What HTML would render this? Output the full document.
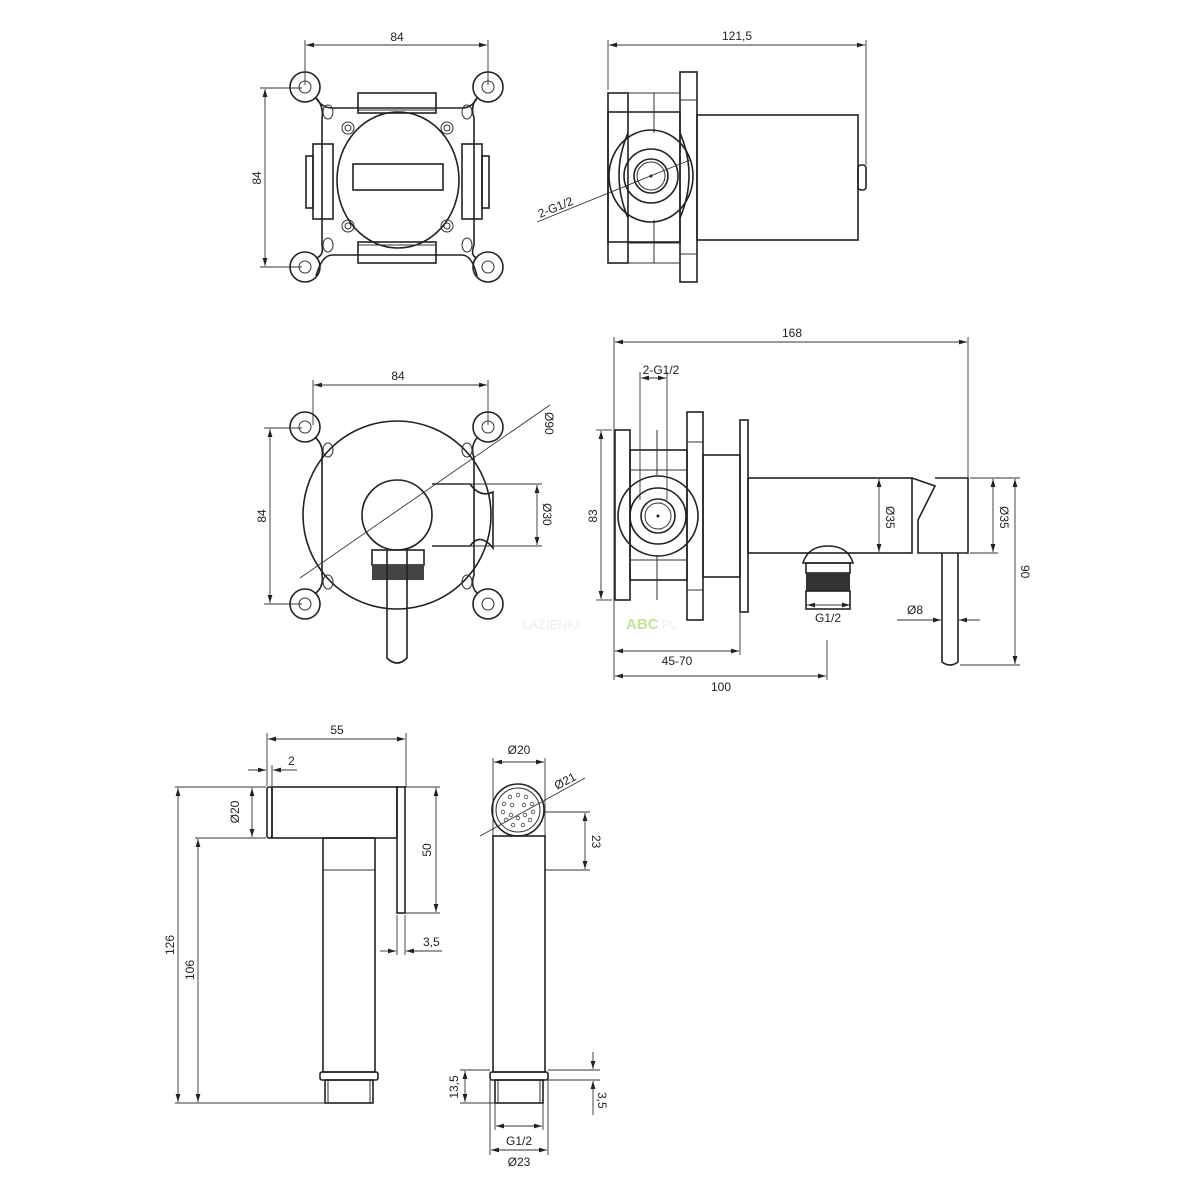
<!DOCTYPE html>
<html><head><meta charset="utf-8"><style>
html,body{margin:0;padding:0;background:#fff}
svg{display:block}
text{font-family:"Liberation Sans",sans-serif;font-size:12px;fill:#222}
.o{fill:none;stroke:#222;stroke-width:1.6}
.t{fill:none;stroke:#333;stroke-width:1}
.d{fill:none;stroke:#333;stroke-width:0.9}
</style></head><body>
<svg width="1200" height="1200" viewBox="0 0 1200 1200" xmlns="http://www.w3.org/2000/svg">
<defs>
<marker id="a" viewBox="0 0 10 10" refX="10" refY="5" markerWidth="8" markerHeight="8" orient="auto-start-reverse" markerUnits="userSpaceOnUse"><path d="M0,2 L10,5 L0,8 z" fill="#222"/></marker>
</defs>

<!-- VIEW 1: mounting plate -->
<g>
<path class="o" d="M316,98 Q322,108 332,108 L462,108 Q472,108 477,98 M477,276 Q472,255 462,255 L332,255 Q322,255 316,276 M316,98 Q324,106 322,118 L322,245 Q324,256 316,258 M477,98 Q470,106 474,118 L474,245 Q470,256 477,258"/>
<circle class="o" cx="305" cy="87" r="15" fill="#fff"/><circle class="t" cx="305" cy="87" r="6"/>
<circle class="o" cx="488" cy="87" r="15" fill="#fff"/><circle class="t" cx="488" cy="87" r="6"/>
<circle class="o" cx="305" cy="267" r="15" fill="#fff"/><circle class="t" cx="305" cy="267" r="6"/>
<circle class="o" cx="488" cy="267" r="15" fill="#fff"/><circle class="t" cx="488" cy="267" r="6"/>
<ellipse class="t" cx="328" cy="112" rx="5" ry="7"/><ellipse class="t" cx="467" cy="112" rx="5" ry="7"/>
<ellipse class="t" cx="328" cy="245" rx="5" ry="7"/><ellipse class="t" cx="467" cy="245" rx="5" ry="7"/>
<circle class="t" cx="348" cy="128" r="6"/><circle class="t" cx="348" cy="128" r="3"/>
<circle class="t" cx="447" cy="128" r="6"/><circle class="t" cx="447" cy="128" r="3"/>
<circle class="t" cx="348" cy="226" r="6"/><circle class="t" cx="348" cy="226" r="3"/>
<circle class="t" cx="447" cy="226" r="6"/><circle class="t" cx="447" cy="226" r="3"/>
<ellipse class="o" cx="398" cy="180" rx="61" ry="68"/>
<rect class="o" x="353" y="164" width="90" height="26"/>
<rect class="o" x="358" y="93" width="78" height="20" fill="#fff"/><line class="t" x1="358" y1="110" x2="436" y2="110"/>
<rect class="o" x="358" y="242" width="78" height="21" fill="#fff"/><line class="t" x1="358" y1="245" x2="436" y2="245"/>
<rect class="o" x="313" y="144" width="20" height="75" fill="#fff"/><rect class="o" x="306" y="156" width="7" height="52"/>
<rect class="o" x="462" y="144" width="20" height="75" fill="#fff"/><rect class="o" x="482" y="156" width="7" height="52"/>
<line class="d" x1="305" y1="40" x2="305" y2="85"/><line class="d" x1="488" y1="40" x2="488" y2="85"/>
<line class="d" x1="306" y1="45" x2="487" y2="45" marker-start="url(#a)" marker-end="url(#a)"/>
<text x="397" y="41" text-anchor="middle">84</text>
<line class="d" x1="260" y1="88" x2="302" y2="88"/><line class="d" x1="260" y1="267" x2="302" y2="267"/>
<line class="d" x1="265" y1="89" x2="265" y2="266" marker-start="url(#a)" marker-end="url(#a)"/>
<text transform="translate(261,178) rotate(-90)" text-anchor="middle">84</text>
</g>

<!-- VIEW 2: side of box -->
<g>
<rect class="o" x="608" y="112" width="72" height="130"/>
<rect class="o" x="608" y="93" width="20" height="170"/>
<rect class="o" x="680" y="72" width="17" height="210"/>
<line class="t" x1="680" y1="100" x2="697" y2="100"/><line class="t" x1="680" y1="254" x2="697" y2="254"/>
<line class="t" x1="628" y1="93" x2="680" y2="93"/><line class="t" x1="628" y1="263" x2="680" y2="263"/>
<line class="t" x1="654" y1="93" x2="654" y2="133"/><line class="t" x1="654" y1="220" x2="654" y2="263"/>
<line class="t" x1="628" y1="112" x2="680" y2="112"/><line class="t" x1="628" y1="243" x2="680" y2="243"/>
<path class="o" d="M628,133 Q610,175 628,218 M680,133 Q698,175 680,218"/>
<ellipse class="o" cx="651" cy="176" rx="42" ry="46"/>
<circle class="o" cx="651" cy="176" r="27"/>
<circle class="o" cx="651" cy="176" r="17"/><circle class="t" cx="651" cy="176" r="14"/>
<circle cx="651" cy="176" r="1.5" fill="#222"/>
<rect class="o" x="697" y="115" width="161" height="125"/>
<rect class="o" x="858" y="165" width="8" height="25" rx="3"/>
<line class="d" x1="537" y1="222" x2="690" y2="160"/>
<text transform="translate(540,218) rotate(-22)">2-G1/2</text>
<line class="d" x1="608" y1="40" x2="608" y2="90"/><line class="d" x1="866" y1="40" x2="866" y2="165"/>
<line class="d" x1="609" y1="45" x2="865" y2="45" marker-start="url(#a)" marker-end="url(#a)"/>
<text x="737" y="40" text-anchor="middle">121,5</text>
</g>

<!-- VIEW 3: front with rosette -->
<g>
<path class="o" d="M316,438 Q324,446 322,458 L322,575 Q324,586 316,593 M477,438 Q470,446 474,458 L474,575 Q470,586 477,593"/>
<circle class="o" cx="305" cy="427" r="15" fill="#fff"/><circle class="t" cx="305" cy="427" r="6"/>
<circle class="o" cx="488" cy="427" r="15" fill="#fff"/><circle class="t" cx="488" cy="427" r="6"/>
<circle class="o" cx="305" cy="604" r="15" fill="#fff"/><circle class="t" cx="305" cy="604" r="6"/>
<circle class="o" cx="488" cy="604" r="15" fill="#fff"/><circle class="t" cx="488" cy="604" r="6"/>
<ellipse class="t" cx="328" cy="450" rx="5" ry="7"/><ellipse class="t" cx="467" cy="450" rx="5" ry="7"/>
<ellipse class="t" cx="328" cy="582" rx="5" ry="7"/><ellipse class="t" cx="467" cy="582" rx="5" ry="7"/>
<circle class="o" cx="397" cy="515" r="94" fill="#fff"/>
<path class="o" d="M432,484 L470,484 Q480,498 493,492 L493,548 Q480,532 470,546 L432,546" fill="#fff"/>
<circle class="o" cx="397" cy="515" r="35" fill="#fff"/>
<rect class="o" x="372" y="550" width="52" height="15" fill="#fff"/>
<rect x="372" y="565" width="52" height="15" fill="#444"/>
<path class="o" d="M387,550 L387,658 Q397,668 407,658 L407,550" fill="#fff"/>
<line class="d" x1="300" y1="578" x2="550" y2="405"/>
<text transform="translate(545,412) rotate(90)">Ø90</text>
<line class="d" x1="432" y1="484" x2="542" y2="484"/><line class="d" x1="432" y1="546" x2="542" y2="546"/>
<line class="d" x1="537" y1="485" x2="537" y2="545" marker-start="url(#a)" marker-end="url(#a)"/>
<text transform="translate(543,503) rotate(90)">Ø30</text>
<line class="d" x1="313" y1="380" x2="313" y2="425"/><line class="d" x1="488" y1="380" x2="488" y2="425"/>
<line class="d" x1="314" y1="385" x2="487" y2="385" marker-start="url(#a)" marker-end="url(#a)"/>
<text x="398" y="380" text-anchor="middle">84</text>
<line class="d" x1="264" y1="428" x2="302" y2="428"/><line class="d" x1="264" y1="604" x2="302" y2="604"/>
<line class="d" x1="270" y1="429" x2="270" y2="603" marker-start="url(#a)" marker-end="url(#a)"/>
<text transform="translate(266,516) rotate(-90)" text-anchor="middle">84</text>
</g>

<!-- VIEW 4: side assembled -->
<g>
<rect class="o" x="615" y="430" width="15" height="170"/>
<rect class="o" x="630" y="450" width="57" height="130"/>
<rect class="o" x="687" y="412" width="16" height="208"/>
<line class="t" x1="687" y1="442" x2="703" y2="442"/><line class="t" x1="687" y1="590" x2="703" y2="590"/>
<line class="t" x1="630" y1="470" x2="687" y2="470"/><line class="t" x1="630" y1="560" x2="687" y2="560"/>
<line class="t" x1="657" y1="430" x2="657" y2="475"/><line class="t" x1="657" y1="555" x2="657" y2="600"/>
<circle class="o" cx="658" cy="516" r="40" fill="#fff"/>
<circle class="o" cx="658" cy="516" r="28"/>
<circle class="o" cx="658" cy="516" r="17"/><circle class="t" cx="658" cy="516" r="13"/>
<circle cx="658" cy="516" r="1.5" fill="#222"/>
<rect class="o" x="703" y="455" width="37" height="122"/>
<rect class="o" x="740" y="420" width="8" height="192"/>
<rect class="o" x="748" y="478" width="164" height="75"/>
<path class="o" d="M912,478 L935,486 L918,520 L918,553 L968,553 L968,478 L935,478"/>
<path class="o" d="M942,553 L942,662 Q950,668 958,662 L958,553" fill="#fff"/>
<path class="o" d="M803,563 Q808,546 828,546 Q848,546 853,563 L803,563 Z"/>
<rect class="o" x="806" y="563" width="44" height="10"/>
<rect x="806" y="573" width="44" height="18" fill="#333"/>
<rect class="o" x="806" y="591" width="44" height="18"/>
<line class="d" x1="614" y1="337" x2="614" y2="680"/><line class="d" x1="968" y1="337" x2="968" y2="478"/>
<line class="d" x1="615" y1="342" x2="967" y2="342" marker-start="url(#a)" marker-end="url(#a)"/>
<text x="792" y="337" text-anchor="middle">168</text>
<line class="d" x1="640" y1="372" x2="640" y2="500"/><line class="d" x1="667" y1="372" x2="667" y2="500"/>
<line class="d" x1="641" y1="378" x2="666" y2="378" marker-start="url(#a)" marker-end="url(#a)"/>
<text x="661" y="374" text-anchor="middle">2-G1/2</text>
<line class="d" x1="596" y1="430" x2="612" y2="430"/><line class="d" x1="596" y1="600" x2="612" y2="600"/>
<line class="d" x1="601" y1="431" x2="601" y2="599" marker-start="url(#a)" marker-end="url(#a)"/>
<text transform="translate(597,516) rotate(-90)" text-anchor="middle">83</text>
<line class="d" x1="879" y1="479" x2="879" y2="552" marker-start="url(#a)" marker-end="url(#a)"/>
<text transform="translate(886,506) rotate(90)">Ø35</text>
<line class="d" x1="970" y1="478" x2="1020" y2="478"/><line class="d" x1="970" y1="553" x2="998" y2="553"/>
<line class="d" x1="993" y1="479" x2="993" y2="552" marker-start="url(#a)" marker-end="url(#a)"/>
<text transform="translate(1000,506) rotate(90)">Ø35</text>
<line class="d" x1="960" y1="665" x2="1020" y2="665"/>
<line class="d" x1="1015" y1="479" x2="1015" y2="664" marker-start="url(#a)" marker-end="url(#a)"/>
<text transform="translate(1021,565) rotate(90)">90</text>
<line class="d" x1="897" y1="620" x2="941" y2="620" marker-end="url(#a)"/>
<line class="d" x1="980" y1="620" x2="959" y2="620" marker-end="url(#a)"/>
<text x="907" y="614">Ø8</text>
<line class="d" x1="807" y1="605" x2="850" y2="605" marker-start="url(#a)" marker-end="url(#a)"/>
<text x="828" y="622" text-anchor="middle">G1/2</text>
<line class="d" x1="740" y1="612" x2="740" y2="655"/>
<line class="d" x1="615" y1="651" x2="739" y2="651" marker-start="url(#a)" marker-end="url(#a)"/>
<text x="677" y="665" text-anchor="middle">45-70</text>
<line class="d" x1="827" y1="640" x2="827" y2="680"/>
<line class="d" x1="615" y1="676" x2="826" y2="676" marker-start="url(#a)" marker-end="url(#a)"/>
<text x="721" y="691" text-anchor="middle">100</text>
<text x="522" y="629" style="font-size:13px;fill:#eeeeee">ŁAZIENKI</text>
<text x="626" y="629" style="font-weight:bold;font-size:15px;fill:#c2e39a">ABC</text>
<text x="658" y="629" style="font-size:13px;fill:#eeeeee">.PL</text>
</g>

<!-- VIEW 5: handshower side -->
<g>
<rect class="o" x="267" y="787" width="5" height="51" rx="2"/>
<rect class="o" x="272" y="787" width="125" height="51"/>
<rect class="o" x="397" y="787" width="8" height="126"/>
<rect class="o" x="323" y="838" width="52" height="234"/>
<line class="t" x1="323" y1="870" x2="375" y2="870"/>
<rect class="o" x="320" y="1072" width="58" height="8" rx="2"/>
<rect class="o" x="325" y="1080" width="48" height="23"/>
<line class="t" x1="328" y1="1080" x2="328" y2="1103"/><line class="t" x1="370" y1="1080" x2="370" y2="1103"/>
<line class="d" x1="267" y1="733" x2="267" y2="786"/><line class="d" x1="406" y1="733" x2="406" y2="787"/>
<line class="d" x1="268" y1="739" x2="405" y2="739" marker-start="url(#a)" marker-end="url(#a)"/>
<text x="337" y="734" text-anchor="middle">55</text>
<line class="d" x1="248" y1="770" x2="266" y2="770" marker-end="url(#a)"/>
<line class="d" x1="297" y1="770" x2="273" y2="770" marker-end="url(#a)"/>
<line class="d" x1="272" y1="765" x2="272" y2="786"/>
<text x="288" y="765">2</text>
<line class="d" x1="175" y1="787" x2="266" y2="787"/><line class="d" x1="195" y1="838" x2="266" y2="838"/>
<line class="d" x1="175" y1="1103" x2="325" y2="1103"/>
<line class="d" x1="252" y1="788" x2="252" y2="837" marker-start="url(#a)" marker-end="url(#a)"/>
<text transform="translate(239,812) rotate(-90)" text-anchor="middle">Ø20</text>
<line class="d" x1="178" y1="788" x2="178" y2="1102" marker-start="url(#a)" marker-end="url(#a)"/>
<text transform="translate(174,945) rotate(-90)" text-anchor="middle">126</text>
<line class="d" x1="198" y1="839" x2="198" y2="1102" marker-start="url(#a)" marker-end="url(#a)"/>
<text transform="translate(194,970) rotate(-90)" text-anchor="middle">106</text>
<line class="d" x1="405" y1="787" x2="440" y2="787"/><line class="d" x1="405" y1="913" x2="440" y2="913"/>
<line class="d" x1="436" y1="788" x2="436" y2="912" marker-start="url(#a)" marker-end="url(#a)"/>
<text transform="translate(431,850) rotate(-90)" text-anchor="middle">50</text>
<line class="d" x1="397" y1="915" x2="397" y2="955"/><line class="d" x1="405" y1="915" x2="405" y2="955"/>
<line class="d" x1="380" y1="951" x2="396" y2="951" marker-end="url(#a)"/>
<line class="d" x1="442" y1="951" x2="406" y2="951" marker-end="url(#a)"/>
<text x="423" y="946">3,5</text>
</g>

<!-- VIEW 6: handshower front -->
<g>
<rect class="o" x="493" y="836" width="52" height="236"/>
<line class="d" x1="493" y1="758" x2="493" y2="836"/><line class="d" x1="545" y1="758" x2="545" y2="836"/>
<circle class="o" cx="518" cy="810" r="26" fill="#fff"/>
<circle class="t" cx="518" cy="810" r="22"/>
<g fill="none" stroke="#444" stroke-width="0.8">
<circle cx="510" cy="797" r="1.8"/><circle cx="518" cy="795" r="1.8"/><circle cx="526" cy="797" r="1.8"/>
<circle cx="504" cy="804" r="1.8"/><circle cx="532" cy="804" r="1.8"/><circle cx="503" cy="812" r="1.8"/>
<circle cx="533" cy="812" r="1.8"/><circle cx="506" cy="820" r="1.8"/><circle cx="530" cy="820" r="1.8"/>
<circle cx="513" cy="825" r="1.8"/><circle cx="523" cy="825" r="1.8"/><circle cx="512" cy="805" r="1.8"/>
<circle cx="524" cy="805" r="1.8"/><circle cx="511" cy="815" r="1.8"/><circle cx="525" cy="815" r="1.8"/>
<circle cx="518" cy="818" r="1.8"/>
</g>
<rect class="o" x="490" y="1072" width="58" height="8" rx="2"/>
<rect class="o" x="495" y="1080" width="48" height="23"/>
<line class="t" x1="498" y1="1080" x2="498" y2="1103"/><line class="t" x1="540" y1="1080" x2="540" y2="1103"/>
<line class="d" x1="494" y1="762" x2="544" y2="762" marker-start="url(#a)" marker-end="url(#a)"/>
<text x="519" y="754" text-anchor="middle">Ø20</text>
<line class="d" x1="480" y1="836" x2="585" y2="778"/>
<text transform="translate(557,790) rotate(-28)">Ø21</text>
<line class="d" x1="545" y1="812" x2="590" y2="812"/><line class="d" x1="545" y1="870" x2="590" y2="870"/>
<line class="d" x1="585" y1="813" x2="585" y2="869" marker-start="url(#a)" marker-end="url(#a)"/>
<text transform="translate(592,835) rotate(90)">23</text>
<line class="d" x1="460" y1="1070" x2="490" y2="1070"/><line class="d" x1="460" y1="1103" x2="495" y2="1103"/>
<line class="d" x1="465" y1="1071" x2="465" y2="1102" marker-start="url(#a)" marker-end="url(#a)"/>
<text transform="translate(458,1087) rotate(-90)" text-anchor="middle">13,5</text>
<line class="d" x1="548" y1="1070" x2="600" y2="1070"/><line class="d" x1="548" y1="1080" x2="600" y2="1080"/>
<line class="d" x1="593" y1="1052" x2="593" y2="1069" marker-end="url(#a)"/>
<line class="d" x1="593" y1="1115" x2="593" y2="1081" marker-end="url(#a)"/>
<text transform="translate(598,1092) rotate(90)">3,5</text>
<line class="d" x1="495" y1="1103" x2="495" y2="1130"/><line class="d" x1="543" y1="1103" x2="543" y2="1130"/>
<line class="d" x1="496" y1="1126" x2="542" y2="1126" marker-start="url(#a)" marker-end="url(#a)"/>
<text x="519" y="1145" text-anchor="middle">G1/2</text>
<line class="d" x1="490" y1="1080" x2="490" y2="1155"/><line class="d" x1="548" y1="1080" x2="548" y2="1155"/>
<line class="d" x1="491" y1="1150" x2="547" y2="1150" marker-start="url(#a)" marker-end="url(#a)"/>
<text x="519" y="1166" text-anchor="middle">Ø23</text>
</g>
</svg>
</body></html>
